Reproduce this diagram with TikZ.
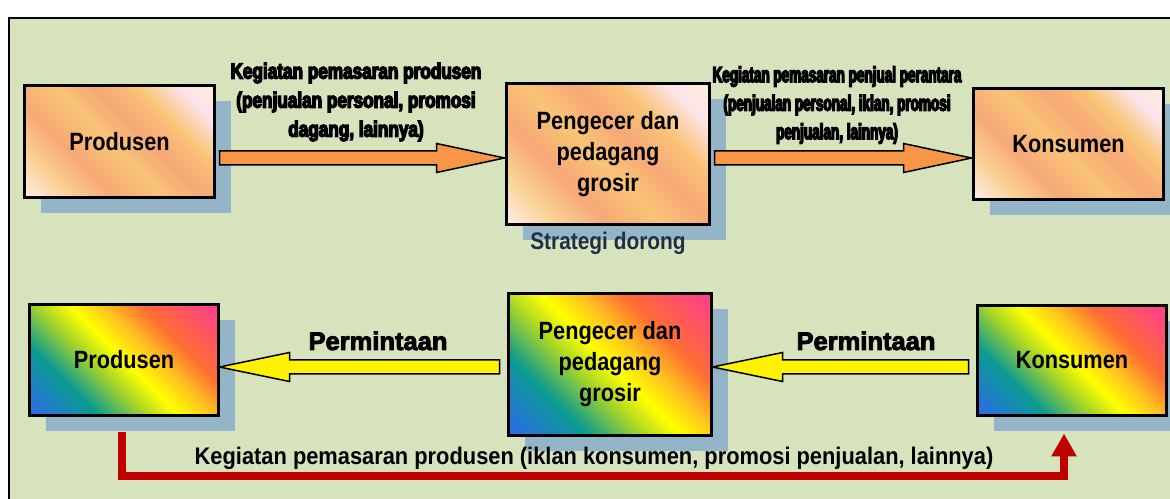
\documentclass[tikz,border=0pt]{standalone}
\usepackage{fontspec}
\setmainfont{Liberation Sans}
\newfontfamily\boxfont{Liberation Sans Bold}[FakeStretch=0.87]
\newfontfamily\labafont{Liberation Sans Bold}[FakeStretch=0.78,RawFeature={embolden=6}]
\newfontfamily\labbfont{Liberation Sans Bold}[FakeStretch=0.615,RawFeature={embolden=6}]
\newfontfamily\permfont{Liberation Sans Bold}[FakeStretch=1.0,RawFeature={embolden=3.5}]
\newfontfamily\botfont{Liberation Sans Bold}[FakeStretch=0.91]
\usetikzlibrary{calc,shadows,arrows.meta}

\definecolor{bgc}{RGB}{215,227,188}
\definecolor{shadowc}{RGB}{148,180,199}
\definecolor{orangec}{RGB}{247,150,70}
\definecolor{redc}{RGB}{192,0,0}
\definecolor{stratc}{RGB}{35,45,70}

\definecolor{rb1}{RGB}{45,105,235}
\definecolor{rb2}{RGB}{10,155,145}
\definecolor{rb3}{RGB}{165,212,40}
\definecolor{rb4}{RGB}{255,255,0}
\definecolor{rb5}{RGB}{255,195,30}
\definecolor{rb6}{RGB}{255,110,50}
\definecolor{rb7}{RGB}{255,60,145}

\definecolor{pc1}{RGB}{253,236,232}
\definecolor{pc2}{RGB}{250,210,150}
\definecolor{pc3}{RGB}{247,168,118}
\definecolor{pc4}{RGB}{249,196,118}
\definecolor{pc5}{RGB}{252,228,236}
\definecolor{pc6}{RGB}{252,238,215}

\pgfdeclarehorizontalshading{rainbowsh}{100bp}{color(0bp)=(rb1); color(15bp)=(rb1); color(31bp)=(rb2); color(42bp)=(rb3); color(50bp)=(rb4); color(58bp)=(rb5); color(67bp)=(rb6); color(85bp)=(rb7); color(100bp)=(rb7)}
\pgfdeclarehorizontalshading{peachsh}{100bp}{color(0bp)=(pc1); color(15bp)=(pc1); color(25bp)=(pc2); color(36bp)=(pc3); color(47bp)=(pc4); color(57bp)=(pc3); color(67bp)=(pc4); color(77bp)=(pc5); color(85bp)=(pc6); color(100bp)=(pc6)}

\newcommand\rightblock[4]{%
  \draw[#1] let \p1=(#2.east), \p2=(#3.west) in
    (\x1+5pt,#4pt+7pt) -- (\x2-70pt,#4pt+7pt) -- (\x2-70pt,#4pt+14.5pt) --
    (\x2-2pt,#4pt) -- (\x2-70pt,#4pt-14.5pt) -- (\x2-70pt,#4pt-7pt) --
    (\x1+5pt,#4pt-7pt) -- cycle;}
\newcommand\leftblock[4]{%
  \draw[#1] let \p1=(#3.east), \p2=(#2.west) in
    (\x2-9pt,#4pt+7pt) -- (\x1+71pt,#4pt+7pt) -- (\x1+71pt,#4pt+14.5pt) --
    (\x1+1pt,#4pt) -- (\x1+71pt,#4pt-14.5pt) -- (\x1+71pt,#4pt-7pt) --
    (\x2-9pt,#4pt-7pt) -- cycle;}

\tikzset{
  boxbase/.style={draw=black, line width=3pt, inner sep=0pt, outer sep=0pt,
    align=center, font=\boxfont\fontsize{25}{31}\selectfont,
    drop shadow={shadow xshift=16pt, shadow yshift=-16pt, fill=shadowc, opacity=1}},
  peachbox/.style={boxbase, shading=peachsh, shading angle=45},
  rainbox/.style={boxbase, shading=rainbowsh, shading angle=45},
  orangearr/.style={draw=black, line width=1.5pt, fill=orangec, line join=miter},
  yellowarr/.style={draw=black, line width=1.5pt, fill=yellow, line join=miter},
  redline/.style={draw=redc, line width=8pt, -{Triangle[length=23pt,width=24pt]}},
}

\begin{document}
\begin{tikzpicture}[x=1pt,y=1pt]
\useasboundingbox (0,0) rectangle (1170,498);
\fill[white] (0,0) rectangle (1170,498);
\draw[line width=2pt, fill=bgc] (9,480) rectangle (1190,-20);

% top row
\node[peachbox, minimum width=190pt, minimum height=112pt] (tp) at (119.5,356.5) {Produsen};
\node[peachbox, minimum width=203pt, minimum height=141pt] (tm) at (608,344) {Pengecer dan\\pedagang\\grosir};
\node[peachbox, minimum width=190pt, minimum height=111pt] (tr) at (1068.5,354) {Konsumen};

% bottom row
\node[rainbox, minimum width=189pt, minimum height=111pt] (bp) at (124,138) {Produsen};
\node[rainbox, minimum width=203pt, minimum height=142pt] (bm) at (610,133.5) {Pengecer dan\\pedagang\\grosir};
\node[rainbox, minimum width=189pt, minimum height=110pt] (br) at (1072,137.5) {Konsumen};

% top arrows
\rightblock{orangearr}{tp}{tm}{340}
\rightblock{orangearr}{tm}{tr}{340}

% bottom arrows
\leftblock{yellowarr}{bm}{bp}{131}
\leftblock{yellowarr}{br}{bm}{131}

% labels
\node[align=center, font=\labafont\fontsize{22}{29}\selectfont] (lab1) at (356,396)
  {Kegiatan pemasaran produsen\\(penjualan personal, promosi\\dagang, lainnya)};
\node[align=center, font=\labbfont\fontsize{22}{28.5}\selectfont] (lab2) at (837,393)
  {Kegiatan pemasaran penjual perantara\\(penjualan personal, iklan, promosi\\penjualan, lainnya)};
\node[font=\boxfont\fontsize{24}{28}\selectfont, text=stratc] (strat) at (608,255) {Strategi dorong};
\node[font=\permfont\fontsize{25.5}{30}\selectfont, anchor=base] (perm1) at (378,148) {Permintaan};
\node[font=\permfont\fontsize{25.5}{30}\selectfont, anchor=base] (perm2) at (866,148) {Permintaan};

% bottom red connector
\coordinate (rl) at (600,22);
\draw[redline] ([shift={(-2pt,-17pt)}]bp.south) |- (rl) -| ([shift={(-8pt,-18pt)}]br.south);
\node[font=\botfont\fontsize{24}{28}\selectfont, anchor=base] (botlab) at (594,33)
  {Kegiatan pemasaran produsen (iklan konsumen, promosi penjualan, lainnya)};
\end{tikzpicture}
\end{document}
